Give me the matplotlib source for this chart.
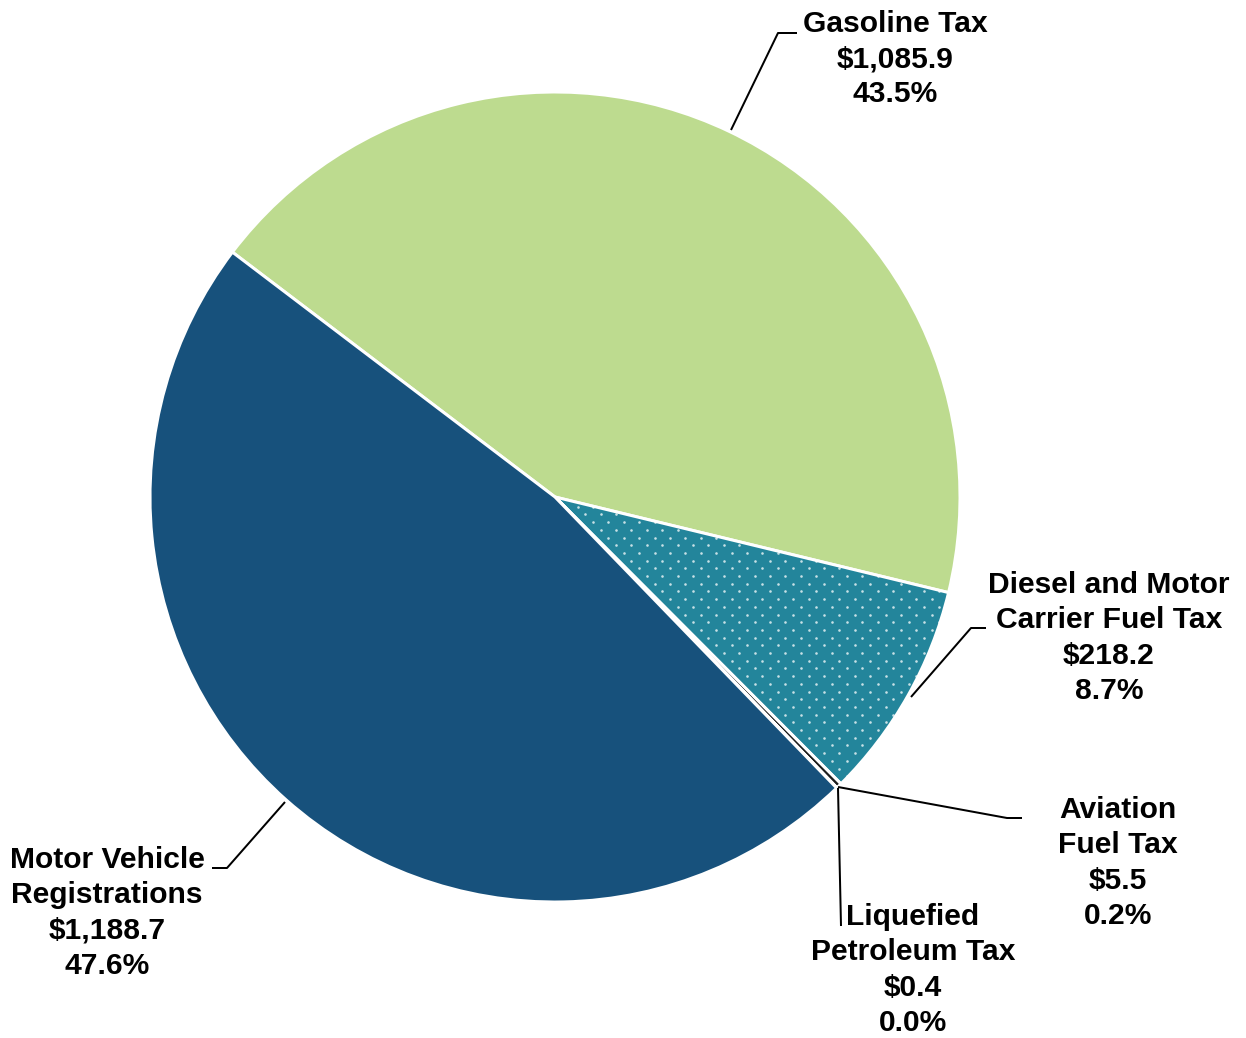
import matplotlib
matplotlib.use("Agg")
import matplotlib.pyplot as plt
import numpy as np

# revenue by source ($ millions)
labels = ["Gasoline Tax", "Diesel and Motor\nCarrier Fuel Tax", "Aviation\nFuel Tax",
          "Liquefied\nPetroleum Tax", "Motor Vehicle\nRegistrations"]
amounts = [1085.9, 218.2, 5.5, 0.4, 1188.7]
shares = [43.5, 8.7, 0.2, 0.0, 47.6]
colors = ["#BDDB8F", "#23859B", "#1E1E1E", "#7F7F7F", "#17517C"]
dotted = [False, True, False, False, False]

DPI = 64
W, H = 1246, 1038


def pt(px):
    return px * 72 / DPI


def Y(y):
    # picture rows run downwards, axes y runs upwards
    return H - y


fig = plt.figure(figsize=(W / DPI, H / DPI), dpi=DPI)
ax = fig.add_axes([0, 0, 1, 1])

wedges, _ = ax.pie(amounts, colors=colors, startangle=142.8, counterclock=False,
                   center=(555, Y(497)), radius=405,
                   wedgeprops=dict(edgecolor="white", linewidth=pt(3)))

ax.set_xlim(0, W)
ax.set_ylim(0, H)
ax.axis("off")

# dotted fill pattern (staggered grid of small white dots, clipped to wedge)
gx, gy = 15.4, 7.7
for w, d in zip(wedges, dotted):
    if not d:
        continue
    rows = np.arange(0, H, gy)
    px, py = [], []
    for i, ry in enumerate(rows):
        off = (gx / 2) if i % 2 else 0
        cols = np.arange(off, W, gx)
        px.extend(cols)
        py.extend([ry] * len(cols))
    sc = ax.scatter(px, py, s=pt(2.6) ** 2, color="white", alpha=0.75,
                    linewidths=0, zorder=w.get_zorder() + 0.1)
    sc.set_clip_path(w)

# label anchor (center) and leader line path, in picture pixels
label_pos = [(895, 59), (1109, 638), (1118, 863), (913, 970), (107, 913)]
leaders = [
    [(731, 130), (778, 33), (797, 33)],
    [(911, 697), (971, 628), (986, 628)],
    [(838, 787), (1007, 818), (1022, 818)],
    [(838, 788), (841, 926)],
    [(285, 802), (227, 868), (212, 868)],
]

for lab, amt, sh, (x, y), path in zip(labels, amounts, shares, label_pos, leaders):
    txt = f"{lab}\n${amt:,.1f}\n{sh:.1f}%"
    ax.text(x, Y(y), txt, ha="center", va="center", multialignment="center",
            fontsize=pt(30), fontweight="bold", family="Liberation Sans",
            linespacing=1.33, color="black")
    xs = [p[0] for p in path]
    ys = [Y(p[1]) for p in path]
    ax.plot(xs, ys, color="black", linewidth=pt(2), solid_capstyle="butt")

fig.savefig("out.png", dpi=DPI)
plt.close(fig)
